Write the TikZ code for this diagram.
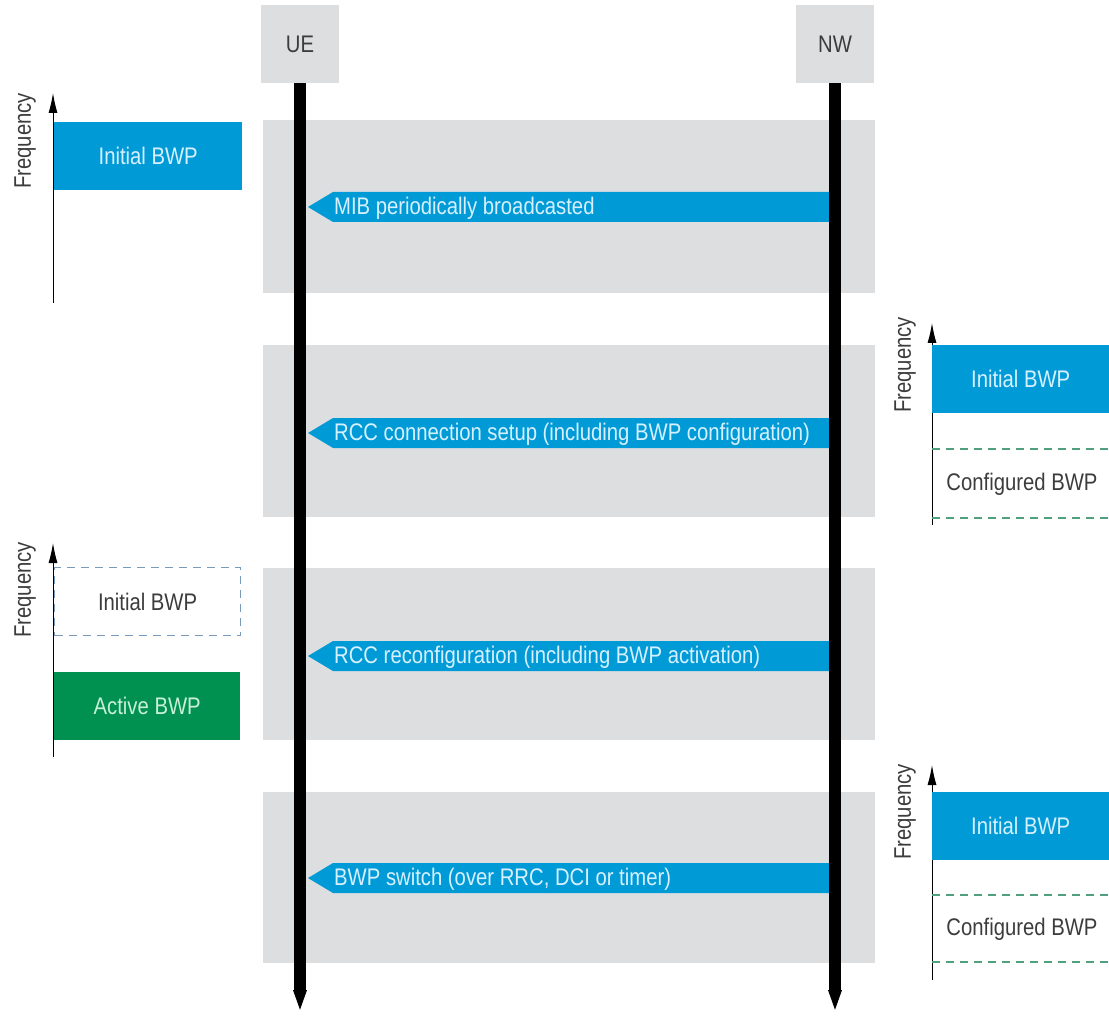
\documentclass[tikz,border=0pt]{standalone}
\usepackage{fontspec}
\setmainfont[FakeStretch=0.845]{Liberation Sans}
\usepackage{tikz}
\usetikzlibrary{positioning,arrows.meta,calc}
\usepackage{xcolor}
\definecolor{bwpblue}{RGB}{0,155,215}
\definecolor{bwpgreen}{RGB}{0,145,80}
\definecolor{bandgray}{RGB}{220,222,224}
\definecolor{textgray}{RGB}{60,60,60}
\definecolor{lightblue}{RGB}{215,240,255}
\definecolor{lightgreen}{RGB}{200,240,215}
\definecolor{dashgreen}{RGB}{80,160,125}
\definecolor{dashblue}{RGB}{120,155,185}
\newcommand{\bwpfont}{\fontsize{24}{28}\selectfont}

\begin{document}
\begin{tikzpicture}[x=1pt,y=-1pt,
		entity/.style={fill=bandgray,minimum width=78pt,minimum height=78pt,inner sep=0pt,text=textgray,font=\bwpfont},
		lifeline/.style={line width=12pt,-{Triangle[length=22pt,width=12pt]}},
		msgtext/.style={anchor=west,inner sep=0pt,text=lightblue,font=\bwpfont},
		freq/.style={line width=1pt,-{Latex[length=20pt,width=9pt]}},
		freqlabel/.style={rotate=90,text=textgray,font=\bwpfont},
		bwpbox/.style={minimum height=68pt,inner sep=0pt,font=\bwpfont},
		initbwp/.style={bwpbox,fill=bwpblue,text=lightblue},
		actbwp/.style={bwpbox,fill=bwpgreen,text=lightgreen},
		idlebwp/.style={bwpbox,draw=dashblue,line width=1.2pt,dash pattern=on 8pt off 6pt,text=textgray},
		cfgline/.style={draw=dashgreen,line width=1.2pt,dash pattern=on 8pt off 6pt}]
		\useasboundingbox (0,0) rectangle (1109,1016);
		% grey bands behind each step
		\fill[bandgray] (263,120) rectangle (875,293);
		\fill[bandgray] (263,345) rectangle (875,517);
		\fill[bandgray] (263,568) rectangle (875,740);
		\fill[bandgray] (263,792) rectangle (875,963);
		\node[entity] (ue) at (300,44) {UE};
		\node[entity] (nw) at (835,44) {NW};
		\coordinate (ueend) at (300,1012);
		\coordinate (nwend) at (835,1012);
		% messages NW -> UE
		\foreach \y/\txt [count=\i] in {207/MIB periodically broadcasted,
			433/RCC connection setup (including BWP configuration),
			656/RCC reconfiguration (including BWP activation),
			878/BWP switch (over RRC{,} DCI or timer)}{
			\coordinate (m\i) at (0,\y);
			\fill[bwpblue] ($(nw |- m\i)+(-6,-15)$) -- ($(ue |- m\i)+(33,-15)$)
				-- ($(ue |- m\i)+(8,0)$) -- ($(ue |- m\i)+(33,15)$)
				-- ($(nw |- m\i)+(-6,15)$) -- cycle;
			\node[msgtext] (t\i) at ($(ue |- m\i)+(34,1)$) {\txt};
		}
		\draw[lifeline] (ue.south) -- (ueend);
		\draw[lifeline] (nw.south) -- (nwend);
		% BWP at UE, before setup
		\draw[freq] (53,303) -- (53,93);
		\node[freqlabel] (f1) at (25,141) {Frequency};
		\node[initbwp,minimum width=188pt,anchor=north west] (b1) at (54,122) {Initial BWP};
		% BWP after setup
		\draw[freq] (932,525) -- (932,323);
		\node[freqlabel] (f2) at (905,365) {Frequency};
		\node[initbwp,minimum width=177pt,anchor=north west] (b2) at (932,345) {Initial BWP};
		\draw[cfgline] (932,449) -- (1109,449);
		\draw[cfgline] (932,518) -- (1109,518);
		\node[text=textgray,font=\bwpfont] (c2) at (1022,484) {Configured BWP};
		% BWP after activation
		\draw[freq] (53,757) -- (53,543);
		\node[freqlabel] (f3) at (25,590) {Frequency};
		\node[idlebwp,minimum width=186pt,anchor=north west] (b3) at (54,567) {Initial BWP};
		\node[actbwp,minimum width=186pt,anchor=north west] (a3) at (54,672) {Active BWP};
		% BWP after switch
		\draw[freq] (932,980) -- (932,765);
		\node[freqlabel] (f4) at (905,812) {Frequency};
		\node[initbwp,minimum width=177pt,anchor=north west] (b4) at (932,792) {Initial BWP};
		\draw[cfgline] (932,895) -- (1109,895);
		\draw[cfgline] (932,962) -- (1109,962);
		\node[text=textgray,font=\bwpfont] (c4) at (1022,929) {Configured BWP};
\end{tikzpicture}
\end{document}
